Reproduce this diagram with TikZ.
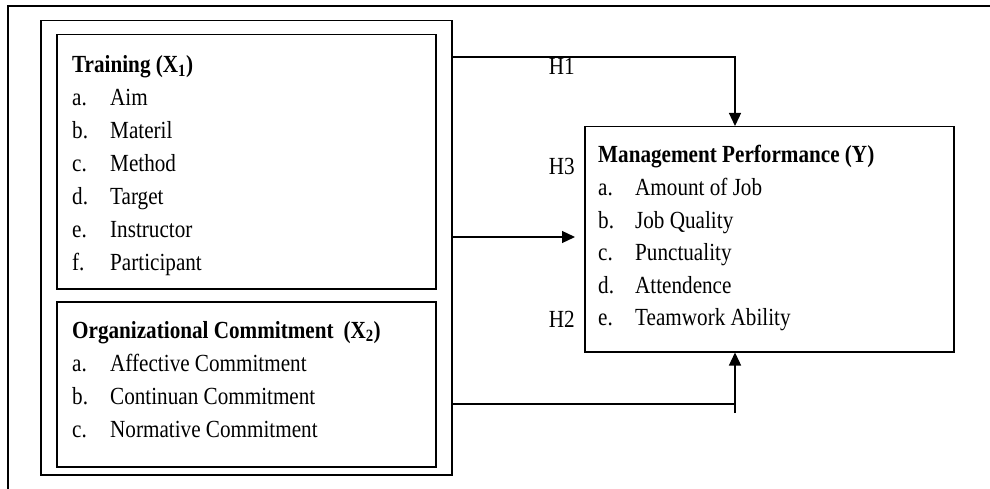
\documentclass[tikz,border=0pt]{standalone}
\usepackage{fontspec}
\setmainfont{Liberation Serif}[FakeStretch=0.86]
\usetikzlibrary{arrows.meta}
\tikzset{
  block/.style={draw=black, line width=1.5pt, anchor=north west, inner sep=0pt},
  itemlist/.style={anchor=base west, inner sep=0pt, font=\fontsize{24.6}{33}\selectfont},
  hlabel/.style={anchor=base east, inner sep=0pt, font=\fontsize{24.6}{33}\selectfont},
  link/.style={line width=1.3pt},
  arrow/.style={line width=1.3pt, -{Triangle[length=13pt,width=12pt]}}
}
\begin{document}
\begin{tikzpicture}[x=1pt, y=-1pt]
  \fill[white] (0,0) rectangle (990,489);
  \useasboundingbox (0,0) rectangle (990,489);
  % page frame
  \draw[line width=2pt] (8,489) -- (8,6) -- (990,6);

  % boxes
  \node (group) [block, minimum width=411pt, minimum height=454pt] at (40,20) {};
  \node (training) [block, minimum width=379pt, minimum height=254pt] at (56,34) {};
  \node (org) [block, minimum width=379pt, minimum height=165pt] at (56,301) {};
  \node (mgmt) [block, minimum width=369pt, minimum height=225pt] at (584,126) {};

  % box texts
  \node (trainingtext) [itemlist] at (72,73) {%
    \begin{tabular}[t]{@{}p{38pt}@{}l@{}}
      \multicolumn{2}{@{}l@{}}{\textbf{Training (X\textsubscript{1})}}\\
      a. & Aim\\
      b. & Materil\\
      c. & Method\\
      d. & Target\\
      e. & Instructor\\
      f. & Participant
    \end{tabular}};
  \node (orgtext) [itemlist] at (72,338) {%
    \begin{tabular}[t]{@{}p{38pt}@{}l@{}}
      \multicolumn{2}{@{}l@{}}{\textbf{Organizational Commitment\hspace{0.4em}(X\textsubscript{2})}}\\
      a. & Affective Commitment\\
      b. & Continuan Commitment\\
      c. & Normative Commitment
    \end{tabular}};
  \node (mgmttext) [itemlist, font=\fontsize{24.6}{32.6}\selectfont] at (598,163) {%
    \begin{tabular}[t]{@{}p{37pt}@{}l@{}}
      \multicolumn{2}{@{}l@{}}{\textbf{Management Performance (Y)}}\\
      a. & Amount of Job\\
      b. & Job Quality\\
      c. & Punctuality\\
      d. & Attendence\\
      e. & Teamwork Ability
    \end{tabular}};

  % hypotheses
  \coordinate (h1bend) at (735,57);
  \coordinate (h3end) at (575,237);
  \coordinate (h2bend) at (735,404);
  \draw[arrow] (group.east |- h1bend) -| (mgmt.north -| h1bend);
  \draw[arrow] (group.east |- h3end) -- (h3end);
  \draw[link] (group.east |- h2bend) -- (h2bend);
  \draw[arrow] ([yshift=-9pt]h2bend) -- (h2bend |- mgmt.south);

  \node (h1) [hlabel] at (575,75) {H1};
  \node (h3) [hlabel] at (575,175) {H3};
  \node (h2) [hlabel] at (575,327) {H2};
\end{tikzpicture}
\end{document}
